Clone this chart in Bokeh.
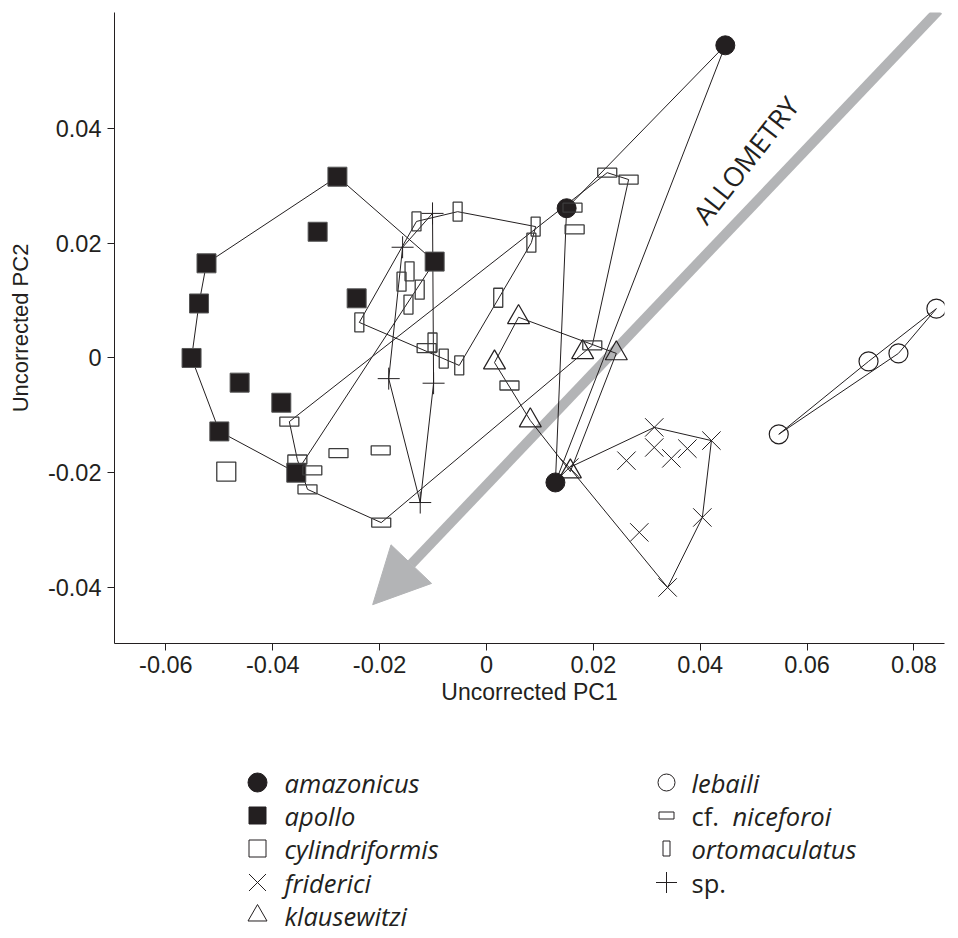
import numpy as np
from bokeh.plotting import figure
from bokeh.models import Range1d, FixedTicker, Arrow, NormalHead, Label
from bokeh.layouts import column
from bokeh.embed import file_html
from bokeh.resources import INLINE
from bokeh.core.properties import value

# ---------------- data ----------------
amazonicus_x = [0.0447, 0.0150, 0.0129]
amazonicus_y = [0.0545, 0.0261, -0.0217]

apollo_x = [-0.0279, -0.0316, -0.0097, -0.0524, -0.0538, -0.0243, -0.0552, -0.0462, -0.0384, -0.0500, -0.0356]
apollo_y = [0.0316, 0.0220, 0.0168, 0.0165, 0.0095, 0.0104, 0.0000, -0.0043, -0.0078, -0.0128, -0.0200]

cylindriformis_x = [-0.0487]
cylindriformis_y = [-0.0198]

friderici_x = [0.0314, 0.0421, 0.0262, 0.0314, 0.0346, 0.0376, 0.0286, 0.0404, 0.0339, 0.0155]
friderici_y = [-0.0121, -0.0144, -0.0179, -0.0156, -0.0175, -0.0158, -0.0304, -0.0278, -0.0400, -0.0191]

klausewitzi_x = [0.0060, 0.0180, 0.0243, 0.0015, 0.0082, 0.0157]
klausewitzi_y = [0.0071, 0.0010, 0.0008, -0.0008, -0.0109, -0.0198]

lebaili_x = [0.0547, 0.0715, 0.0771, 0.0842]
lebaili_y = [-0.0133, -0.0006, 0.0008, 0.0086]

niceforoi_x = [0.0226, 0.0266, 0.0161, 0.0165, 0.0198, 0.0043, -0.0112, -0.0369, -0.0354, -0.0326, -0.0335, -0.0277, -0.0198, -0.0197]
niceforoi_y = [0.0323, 0.0311, 0.0262, 0.0224, 0.0022, -0.0048, 0.0017, -0.0111, -0.0177, -0.0196, -0.0229, -0.0166, -0.0161, -0.0287]

ortomaculatus_x = [-0.0131, -0.0054, 0.0092, 0.0084, -0.0144, -0.0159, -0.0125, -0.0146, 0.0022, -0.0101, -0.0080, -0.0051, -0.0238]
ortomaculatus_y = [0.0238, 0.0255, 0.0229, 0.0201, 0.0151, 0.0133, 0.0119, 0.0093, 0.0105, 0.0027, -0.0001, -0.0013, 0.0062]

sp_x = [-0.0101, -0.0157, -0.0183, -0.0099, -0.0124]
sp_y = [0.0252, 0.0193, -0.0036, -0.0044, -0.0252]

x_ticks = [-0.06, -0.04, -0.02, 0.0, 0.02, 0.04, 0.06, 0.08]
x_tick_labels = ["-0.06", "-0.04", "-0.02", "0", "0.02", "0.04", "0.06", "0.08"]
y_ticks = [-0.04, -0.02, 0.0, 0.02, 0.04]
y_tick_labels = ["-0.04", "-0.02", "0", "0.02", "0.04"]

x_label = "Uncorrected PC1"
y_label = "Uncorrected PC2"
arrow_label = "ALLOMETRY"
arrow_start = (0.0846, 0.0606)
arrow_end = (-0.0213, -0.0430)

legend_col1 = ["amazonicus", "apollo", "cylindriformis", "friderici", "klausewitzi"]
legend_col2 = ["lebaili", "niceforoi", "ortomaculatus", "sp."]

# ---------------- style ----------------
INK = "#231f20"
EDGE = "#3c3c3c"
GREY = "#b3b4b6"
AX_FONT = "Liberation Sans"
LEG_FONT = "Open Sans"

BL, BR, BT, BB = 114, 6, 12, 87
FW, FH = 830, 631


def convex_hull(xs, ys):
    pts = sorted(set(zip(xs, ys)))
    if len(pts) < 3:
        return list(xs), list(ys)

    def cross(o, a, b):
        return (a[0] - o[0]) * (b[1] - o[1]) - (a[1] - o[1]) * (b[0] - o[0])

    lower, upper = [], []
    for pt in pts:
        while len(lower) >= 2 and cross(lower[-2], lower[-1], pt) <= 0:
            lower.pop()
        lower.append(pt)
    for pt in reversed(pts):
        while len(upper) >= 2 and cross(upper[-2], upper[-1], pt) <= 0:
            upper.pop()
        upper.append(pt)
    h = lower[:-1] + upper[:-1]
    h.append(h[0])
    return [q[0] for q in h], [q[1] for q in h]


p = figure(
    frame_width=FW, frame_height=FH,
    x_range=Range1d(-0.06962, 0.08572), y_range=Range1d(-0.04977, 0.06022),
    output_backend="svg", toolbar_location=None,
    min_border_left=BL, min_border_right=BR, min_border_top=BT, min_border_bottom=BB,
    background_fill_color="white", border_fill_color="white",
)
p.outline_line_color = None
p.grid.grid_line_color = None

for ax in (p.xaxis[0], p.yaxis[0]):
    ax.axis_line_color = INK
    ax.axis_line_width = 1
    ax.major_tick_line_color = INK
    ax.major_tick_out = 7
    ax.major_tick_in = 0
    ax.minor_tick_line_color = None
    ax.major_label_text_font = AX_FONT
    ax.major_label_text_font_size = "23.5px"
    ax.major_label_text_color = INK
    ax.axis_label_text_font = AX_FONT
    ax.axis_label_text_font_style = "normal"
    ax.axis_label_text_color = INK

p.xaxis[0].axis_label_text_font_size = "23px"
p.yaxis[0].axis_label_text_font_size = "22px"
p.xaxis[0].ticker = FixedTicker(ticks=x_ticks)
p.xaxis[0].major_label_overrides = {t: s for t, s in zip(x_ticks, x_tick_labels)}
p.yaxis[0].ticker = FixedTicker(ticks=y_ticks)
p.yaxis[0].major_label_overrides = {t: s for t, s in zip(y_ticks, y_tick_labels)}
p.xaxis[0].axis_label = x_label
p.yaxis[0].axis_label = y_label
p.xaxis[0].major_label_standoff = 5
p.xaxis[0].axis_label_standoff = 3
p.yaxis[0].major_label_standoff = 6
p.yaxis[0].axis_label_standoff = 12

# allometry arrow (beneath the data)
arr = Arrow(
    end=NormalHead(size=56, fill_color=GREY, line_color=GREY, line_width=1),
    x_start=arrow_start[0], y_start=arrow_start[1],
    x_end=arrow_end[0], y_end=arrow_end[1],
    line_color=GREY, line_width=10, level="underlay",
)
p.add_layout(arr)

p.add_layout(Label(
    x=0.0485, y=0.0345, text=arrow_label, angle=52, angle_units="deg",
    text_align="center", text_baseline="middle",
    text_font=LEG_FONT, text_font_size="27px", text_color=INK,
))

# hulls
for xs, ys in [
    (amazonicus_x, amazonicus_y), (apollo_x, apollo_y), (friderici_x, friderici_y),
    (klausewitzi_x, klausewitzi_y), (lebaili_x, lebaili_y), (niceforoi_x, niceforoi_y),
    (ortomaculatus_x, ortomaculatus_y), (sp_x, sp_y),
]:
    hx, hy = convex_hull(xs, ys)
    p.line(hx, hy, line_color=INK, line_width=1)

# markers
p.scatter(amazonicus_x, amazonicus_y, marker="circle", size=19, fill_color=INK, line_color=INK)
p.scatter(apollo_x, apollo_y, marker="square", size=19, fill_color=INK, line_color="#555555", line_width=1)
p.scatter(cylindriformis_x, cylindriformis_y, marker="square", size=19, fill_color="white", line_color=EDGE, line_width=1.3)
p.scatter(friderici_x, friderici_y, marker="x", size=26, line_color=INK, line_width=1)
p.scatter(klausewitzi_x, klausewitzi_y, marker="triangle", size=22, fill_alpha=0, line_color=INK, line_width=1.2)
p.scatter(lebaili_x, lebaili_y, marker="circle", size=19, fill_alpha=0, line_color=INK, line_width=1.2)
p.rect(niceforoi_x, niceforoi_y, width=19, height=9, width_units="screen", height_units="screen",
       fill_alpha=0, line_color=EDGE, line_width=1.3)
p.rect(ortomaculatus_x, ortomaculatus_y, width=9, height=19, width_units="screen", height_units="screen",
       fill_alpha=0, line_color=EDGE, line_width=1.3)
p.scatter(sp_x, sp_y, marker="cross", size=22, line_color=INK, line_width=1)

# ---------------- legend (manual, to mix roman and italic) ----------------
# The legend figure's frame is aligned with the main frame by the column layout,
# so its ranges are given in page pixels.
LH = 206
PAGE_TOP = BT + FH + BB
leg = figure(frame_width=FW, frame_height=LH,
             x_range=Range1d(BL + 1, BL + 1 + FW), y_range=Range1d(PAGE_TOP + LH, PAGE_TOP),
             output_backend="svg", toolbar_location=None,
             x_axis_type=None, y_axis_type=None,
             min_border_left=BL, min_border_right=BR, min_border_top=0, min_border_bottom=0)
leg.outline_line_color = None
leg.grid.grid_line_color = None

row_y = [782, 815, 848, 882, 915]
c1_mx, c1_tx = 258, 285
c2_mx, c2_tx = 667, 692

leg.scatter([c1_mx], [row_y[0]], marker="circle", size=19, fill_color=INK, line_color=INK)
leg.scatter([c1_mx], [row_y[1]], marker="square", size=17, fill_color=INK, line_color=INK)
leg.scatter([c1_mx], [row_y[2]], marker="square", size=17, fill_color="white", line_color=INK, line_width=1)
leg.scatter([c1_mx], [row_y[3]], marker="x", size=24, line_color=INK, line_width=1)
leg.scatter([c1_mx], [row_y[4]], marker="triangle", size=19, fill_alpha=0, line_color=INK, line_width=1)
leg.scatter([c2_mx], [row_y[0]], marker="circle", size=17, fill_alpha=0, line_color=INK, line_width=1)
leg.rect([c2_mx], [row_y[1]], width=15, height=7, width_units="screen", height_units="screen",
         fill_alpha=0, line_color=INK, line_width=1)
leg.rect([c2_mx], [row_y[2]], width=7, height=15, width_units="screen", height_units="screen",
         fill_alpha=0, line_color=INK, line_width=1)
leg.scatter([c2_mx], [row_y[3]], marker="cross", size=21, line_color=INK, line_width=1)

LFS = "25.5px"
leg.text([c1_tx] * len(legend_col1), row_y[:len(legend_col1)], text=legend_col1,
         text_font=value(LEG_FONT), text_font_style="italic", text_font_size=LFS,
         text_baseline="middle", text_color=INK)
leg.text([c2_tx, c2_tx + 41, c2_tx], [row_y[0], row_y[1], row_y[2]],
         text=[legend_col2[0], legend_col2[1], legend_col2[2]],
         text_font=value(LEG_FONT), text_font_style="italic", text_font_size=LFS,
         text_baseline="middle", text_color=INK)
leg.text([c2_tx, c2_tx], [row_y[1], row_y[3]], text=["cf.", legend_col2[3]],
         text_font=value(LEG_FONT), text_font_style="normal", text_font_size=LFS,
         text_baseline="middle", text_color=INK)

layout = column(p, leg)
open("out.html", "w").write(file_html(layout, INLINE))
